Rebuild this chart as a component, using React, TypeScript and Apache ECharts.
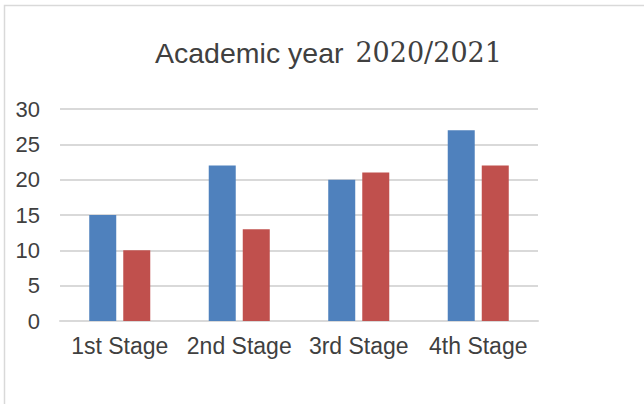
import React, { useEffect, useRef } from "react";
import * as echarts from "echarts";

const categories = ["1st Stage", "2nd Stage", "3rd Stage", "4th Stage"];
const seriesA = [15, 22, 20, 27];
const seriesB = [10, 13, 21, 22];
const titleSans = "Academic year ";
const titleSerif = "2020/2021";

export default function App() {
  const ref = useRef<HTMLDivElement>(null);
  useEffect(() => {
    if (!ref.current) return;
    const chart = echarts.init(ref.current, null, { renderer: "svg" });
    chart.setOption({
      animation: false,
      backgroundColor: "#ffffff",
      graphic: [
        {
          type: "rect",
          shape: { x: 4.5, y: 5.5, width: 800, height: 600 },
          style: { fill: "none", stroke: "#d9d9d9", lineWidth: 1.5 },
          silent: true,
        },
      ],
      title: {
        text: `{a|${titleSans}}{b|${titleSerif}}`,
        left: 150,
        top: 33,
        textStyle: {
          fontWeight: "normal",
          rich: {
            a: { fontFamily: "'Liberation Sans', Arial, sans-serif", fontSize: 28.5, fontWeight: "normal", color: "#404040" },
            b: { fontFamily: "'DejaVu Serif', serif", fontSize: 27, fontWeight: "normal", color: "#404040", padding: [0, 0, 0, 4] },
          },
        },
      },
      grid: { left: 60, right: 106, top: 109, bottom: 83, containLabel: false },
      xAxis: {
        type: "category",
        data: categories,
        axisLine: { lineStyle: { color: "#d9d9d9", width: 2 } },
        axisTick: { show: false },
        axisLabel: {
          color: "#404040",
          fontFamily: "'Liberation Sans', Arial, sans-serif",
          fontSize: 23,
          margin: 13,
          interval: 0,
        },
      },
      yAxis: {
        type: "value",
        min: 0,
        max: 30,
        interval: 5,
        axisLine: { show: false },
        axisTick: { show: false },
        splitLine: { lineStyle: { color: "#d9d9d9", width: 2 } },
        axisLabel: {
          color: "#404040",
          fontFamily: "'Liberation Sans', Arial, sans-serif",
          fontSize: 22,
          margin: 20,
        },
      },
      series: [
        {
          type: "bar",
          data: seriesA,
          barWidth: 27,
          barGap: "26%",
          itemStyle: { color: "#4F81BD" },
        },
        {
          type: "bar",
          data: seriesB,
          barWidth: 27,
          itemStyle: { color: "#C0504D" },
        },
      ],
    });
    return () => chart.dispose();
  }, []);
  return (
    <div
      ref={ref}
      style={{ position: "fixed", left: 0, top: 0, width: 644, height: 404 }}
    />
  );
}
